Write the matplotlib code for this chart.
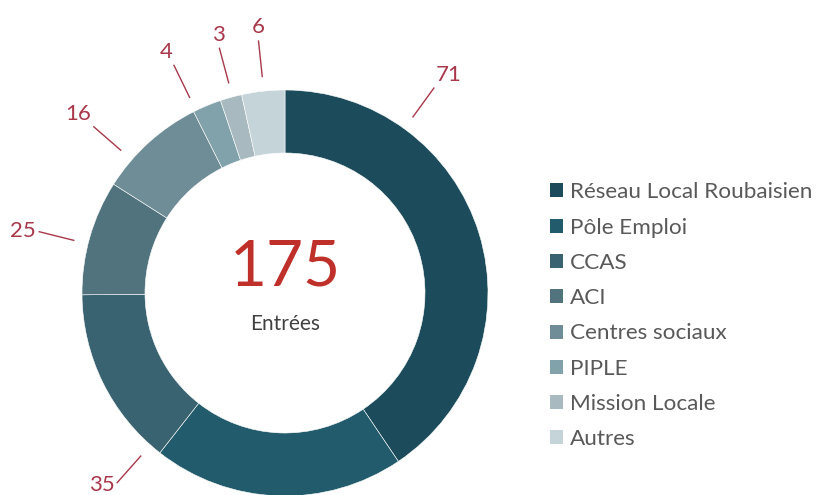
import numpy as np
import matplotlib
matplotlib.use("Agg")
from matplotlib import pyplot as plt
from matplotlib.patches import Patch

# data
categories = ["Réseau Local Roubaisien", "Pôle Emploi", "CCAS", "ACI",
              "Centres sociaux", "PIPLE", "Mission Locale", "Autres"]
values = [71, 35, 25, 16, 15, 4, 3, 6]
value_labels = ["71", "35", "25", "16", "", "4", "3", "6"]
total_label = "175"
centre_text = "Entrées"

# style
colors = ["#1c4c5b", "#225b6b", "#396370", "#50737e",
          "#6e8d97", "#81a2ab", "#a8babf", "#c5d4d9"]
label_angles = [36, 221.5, 284, 311, None, 334, 345, 354]  # deg clockwise from top
label_color = "#a8384a"
font = "Lato"

W, H = 817, 495
fig = plt.figure(figsize=(W / 100, H / 100), dpi=100)
ax = fig.add_axes([0, 0, 1, 1])

cx, cy, R, ring = 285, 202, 203, 63
ax.pie(values, colors=colors, startangle=90, counterclock=False,
       center=(cx, cy), radius=R, frame=True,
       wedgeprops=dict(width=ring, edgecolor="white", linewidth=0.4))
ax.set_xlim(0, W)
ax.set_ylim(0, H)
ax.set_aspect("equal")
ax.axis("off")

for txt, ang in zip(value_labels, label_angles):
    if not txt or ang is None:
        continue
    a = np.deg2rad(ang)
    dx, dy = np.sin(a), np.cos(a)
    x0, y0 = cx + 217 * dx, cy + 217 * dy
    x1, y1 = cx + 254 * dx, cy + 254 * dy
    ax.plot([x0, x1], [y0, y1], color=label_color, lw=1.0, solid_capstyle="butt")
    ha = "left" if dx > 0.3 else ("right" if dx < -0.3 else "center")
    va = "bottom" if dy > 0.3 else ("top" if dy < -0.8 else "center")
    ax.text(x1 + 3 * dx, y1 + 3 * dy, txt, color=label_color,
            fontsize=16, family=font, ha=ha, va=va)

ax.text(cx, cy + 25, total_label, color="#c0302a", fontsize=46,
        family=font, ha="center", va="center")
ax.text(cx, cy - 31, centre_text, color="#404040", fontsize=15,
        family=font, ha="center", va="center")

handles = [Patch(facecolor=c, edgecolor="none") for c in colors]
leg = fig.legend(handles, categories, loc="upper left",
                 bbox_to_anchor=(530 / W, 1 - 162 / H), frameon=False,
                 handlelength=0.58, handleheight=0.58, handletextpad=0.28,
                 labelspacing=0.68, prop=dict(family=font, size=16.2))
for t in leg.get_texts():
    t.set_color("#595959")

fig.savefig("out.png", dpi=100)
